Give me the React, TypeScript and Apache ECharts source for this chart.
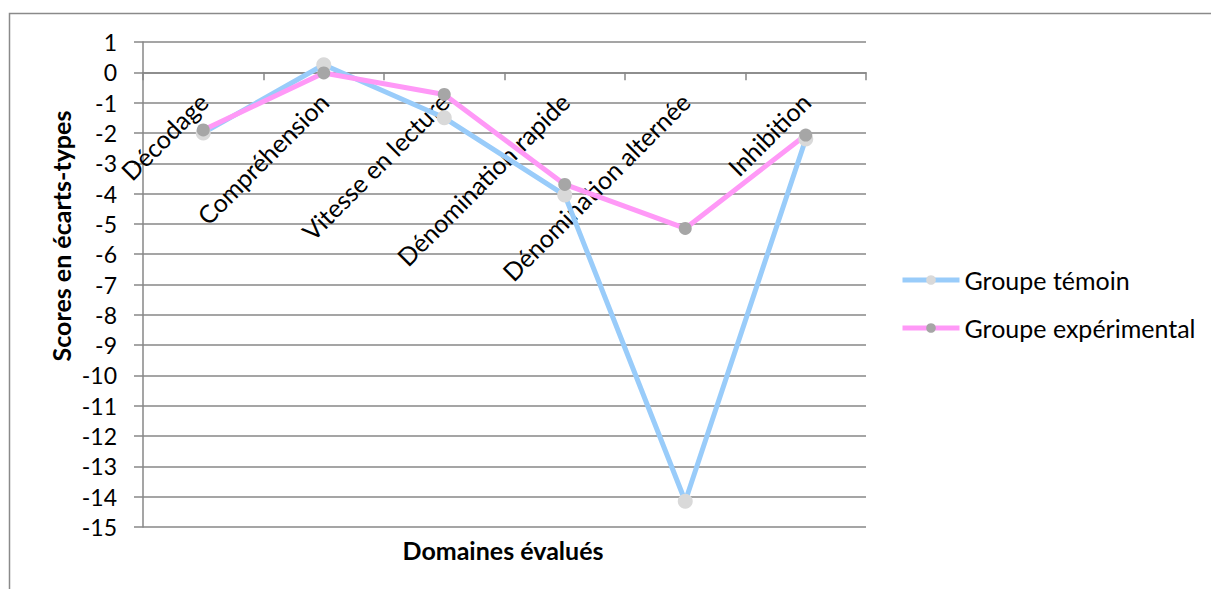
import React, { useEffect, useRef } from "react";
import * as echarts from "echarts";

const categories = [
  "Décodage",
  "Compréhension",
  "Vitesse en lecture",
  "Dénomination rapide",
  "Dénomination alternée",
  "Inhibition",
];
const groupeTemoin = [-2.0, 0.25, -1.5, -4.05, -14.15, -2.2];
const groupeExperimental = [-1.9, -0.02, -0.73, -3.7, -5.15, -2.07];
const seriesNames = ["Groupe témoin", "Groupe expérimental"];
const yMin = -15;
const yMax = 1;
const xTitle = "Domaines évalués";
const yTitle = "Scores en écarts-types";

const FONT = "Lato, 'Noto Sans', sans-serif";
const GRID = "#878787";
const GRID_TOP = 42;
const GRID_HEIGHT = 485;
// distance from grid bottom up to the value 0 line
const ZERO_OFFSET = -(GRID_HEIGHT * (0 - yMin)) / (yMax - yMin);

export default function App() {
  const ref = useRef<HTMLDivElement>(null);
  useEffect(() => {
    if (!ref.current) return;
    const chart = echarts.init(ref.current, undefined, { renderer: "svg" });
    chart.setOption({
      animation: false,
      backgroundColor: "#ffffff",
      textStyle: { fontFamily: FONT },
      grid: {
        left: 143,
        top: GRID_TOP,
        width: 723,
        height: GRID_HEIGHT,
        containLabel: false,
        outerBoundsMode: "none",
      },
      legend: {
        orient: "vertical",
        left: 900,
        top: 267,
        padding: 0,
        itemWidth: 57,
        itemHeight: 12,
        itemGap: 22,
        lineStyle: { width: 5 },
        textStyle: { fontFamily: FONT, fontSize: 25, color: "#000", lineHeight: 26, padding: [0, 0, 0, 0] },
        data: seriesNames,
      },
      xAxis: {
        type: "category",
        data: categories,
        boundaryGap: true,
        position: "bottom",
        offset: ZERO_OFFSET,
        axisLine: { onZero: false, lineStyle: { color: GRID, width: 1.5 } },
        axisTick: { show: true, length: 8, inside: false, lineStyle: { color: GRID, width: 1.5 } },
        axisLabel: {
          rotate: 45,
          interval: 0,
          margin: 25,
          fontFamily: FONT,
          fontSize: 25,
          color: "#000",
        },
        splitLine: { show: false },
      },
      yAxis: {
        type: "value",
        min: yMin,
        max: yMax,
        interval: 1,
        axisLine: { show: true, lineStyle: { color: GRID, width: 1.5 } },
        axisTick: { show: true, length: 9, lineStyle: { color: GRID, width: 1.5 } },
        axisLabel: { margin: 26, fontFamily: FONT, fontSize: 23, color: "#000" },
        splitLine: { show: true, lineStyle: { color: GRID, width: 1.5 } },
      },
      graphic: [
        {
          type: "rect",
          shape: { x: 9.5, y: 13.5, width: 1400, height: 800 },
          style: { fill: "none", stroke: "#8a8a8a", lineWidth: 1.5 },
          silent: true,
        },
        {
          type: "text",
          x: 61,
          y: 236,
          rotation: Math.PI / 2,
          style: {
            text: yTitle,
            fontFamily: FONT,
            fontSize: 25,
            fontWeight: "bold",
            fill: "#000",
            align: "center",
            verticalAlign: "middle",
          },
        },
        {
          type: "text",
          x: 503,
          y: 550,
          style: {
            text: xTitle,
            fontFamily: FONT,
            fontSize: 25,
            fontWeight: "bold",
            fill: "#000",
            align: "center",
            verticalAlign: "middle",
          },
        },
      ],
      series: [
        {
          name: seriesNames[0],
          type: "line",
          data: groupeTemoin,
          symbol: "circle",
          symbolSize: 15,
          showSymbol: true,
          lineStyle: { color: "#99ccfa", width: 5 },
          itemStyle: { color: "#d9d9d9" },
        },
        {
          name: seriesNames[1],
          type: "line",
          data: groupeExperimental,
          symbol: "circle",
          symbolSize: 13,
          showSymbol: true,
          lineStyle: { color: "#ff99f7", width: 5 },
          itemStyle: { color: "#a6a6a6" },
        },
      ],
    });
    return () => chart.dispose();
  }, []);
  return (
    <div
      ref={ref}
      style={{ position: "fixed", left: 0, top: 0, width: 1211, height: 589 }}
    />
  );
}
